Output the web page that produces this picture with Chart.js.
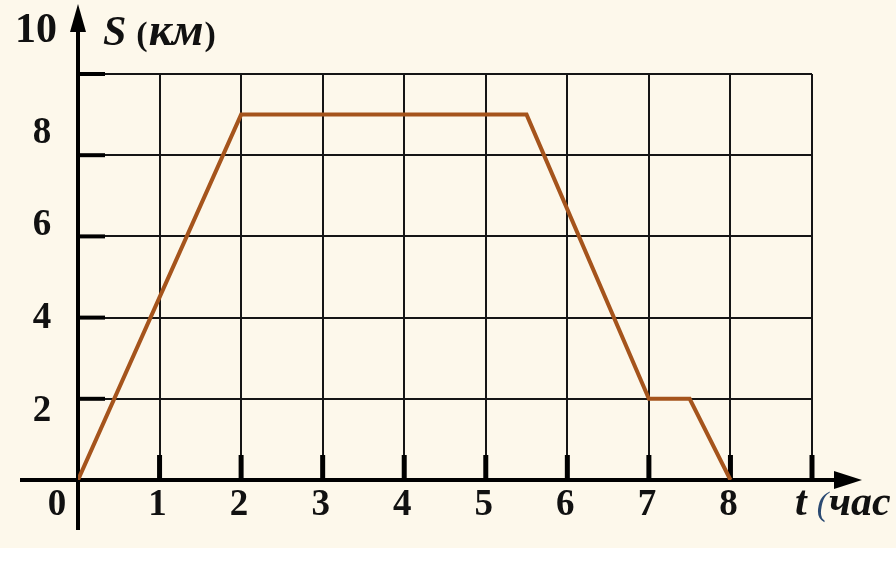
<!DOCTYPE html>
<html>
<head>
<meta charset="utf-8">
<script src="https://cdn.jsdelivr.net/npm/chart.js@4"></script>
<style>
  body { margin: 0; background: #fff; }
  #wrap { width: 896px; height: 571px; }
</style>
</head>
<body>
<div id="wrap"><canvas id="pathChart" width="896" height="571"></canvas></div>
<script>
// distance-time graph: t in hours, S in km
var timeHours = [0, 2, 5.5, 7, 7.5, 8];
var distanceKm = [0, 9, 9, 2, 2, 0];
var xTickLabels = ['0', '1', '2', '3', '4', '5', '6', '7', '8'];
var yTickLabels = ['2', '4', '6', '8', '10'];

var points = timeHours.map(function (t, i) { return { x: t, y: distanceKm[i] }; });

var serif = '"Liberation Serif", "Times New Roman", serif';

// cream paper background
var paperPlugin = {
    id: 'paper',
    beforeDraw: function (chart) {
        var c = chart.ctx;
        c.save();
        c.fillStyle = '#ffffff';
        c.fillRect(0, 0, chart.width, chart.height);
        c.fillStyle = '#fdf8eb';
        c.fillRect(0, 0, chart.width, 548);
        c.restore();
    }
};

// writes pieces of text one after another, each with its own font
function writeRun(c, x, y, parts) {
    parts.forEach(function (p) {
        c.font = p.font;
        c.fillStyle = p.color || '#111';
        c.fillText(p.text, x, y);
        x += c.measureText(p.text).width + (p.gap || 0);
    });
}

// thick axes with arrows, tick marks and labels
var axesPlugin = {
    id: 'axes',
    beforeDatasetsDraw: function (chart) {
        var c = chart.ctx;
        var xs = chart.scales.x, ys = chart.scales.y;
        var x0 = xs.getPixelForValue(0), y0 = ys.getPixelForValue(0);
        c.save();
        c.strokeStyle = '#000';
        c.fillStyle = '#000';
        c.lineWidth = 4;
        // x axis
        c.beginPath();
        c.moveTo(20, y0);
        c.lineTo(845, y0);
        c.stroke();
        c.beginPath();
        c.moveTo(862, y0);
        c.lineTo(834, y0 - 9);
        c.lineTo(834, y0 + 9);
        c.closePath();
        c.fill();
        // y axis
        c.beginPath();
        c.moveTo(x0, 530);
        c.lineTo(x0, 22);
        c.stroke();
        c.beginPath();
        c.moveTo(x0, 4);
        c.lineTo(x0 - 8, 32);
        c.lineTo(x0 + 8, 32);
        c.closePath();
        c.fill();
        // x tick marks
        c.lineWidth = 5;
        for (var i = 1; i <= 9; i++) {
            var px = xs.getPixelForValue(i);
            c.beginPath();
            c.moveTo(px, y0);
            c.lineTo(px, y0 - 25);
            c.stroke();
        }
        // y tick marks
        c.lineWidth = 4;
        for (var v = 2; v <= 10; v += 2) {
            var py = ys.getPixelForValue(v);
            c.beginPath();
            c.moveTo(x0, py);
            c.lineTo(x0 + 27, py);
            c.stroke();
        }
        c.restore();
    },
    afterDraw: function (chart) {
        var c = chart.ctx;
        var xs = chart.scales.x, ys = chart.scales.y;
        c.save();
        c.fillStyle = '#111';
        c.textBaseline = 'middle';
        // x labels
        c.font = 'bold 37px ' + serif;
        c.textAlign = 'center';
        xTickLabels.forEach(function (lab, i) {
            var px = i === 0 ? 57 : xs.getPixelForValue(i) - 2;
            c.fillText(lab, px, 505);
        });
        // y labels (scan places them a bit stretched compared to the grid)
        yTickLabels.forEach(function (lab) {
            var v = Number(lab);
            if (v === 10) {
                c.font = 'bold 42px ' + serif;
                c.textAlign = 'right';
                c.fillText(lab, 57, 31);
                return;
            }
            c.font = 'bold 37px ' + serif;
            c.textAlign = 'center';
            var py = ys.getPixelForValue(v * 1.14 - 0.58);
            c.fillText(lab, 42, py);
        });
        // axis titles
        c.textAlign = 'left';
        c.textBaseline = 'alphabetic';
        writeRun(c, 103, 45, [
            { text: 'S', font: 'italic bold 42px ' + serif, gap: 10 },
            { text: '(', font: 'bold 34px ' + serif, gap: 1 },
            { text: 'км', font: 'italic bold 46px ' + serif, gap: 1 },
            { text: ')', font: 'bold 34px ' + serif }
        ]);
        writeRun(c, 795, 515, [
            { text: 't', font: 'italic bold 42px ' + serif, gap: 10 },
            { text: '(', font: 'italic 34px ' + serif, color: '#2b4a72', gap: 1 },
            { text: 'час', font: 'italic bold 42px ' + serif }
        ]);
        c.restore();
    }
};

var ctx = document.getElementById('pathChart').getContext('2d');

var pathChart = new Chart(ctx, {
    type: 'line',
    data: {
        datasets: [{
            data: points,
            borderColor: '#a5541c',
            borderWidth: 4,
            pointRadius: 0,
            tension: 0,
            fill: false
        }]
    },
    options: {
        responsive: false,
        animation: false,
        layout: { padding: { left: 78, right: 84, top: 74, bottom: 91 } },
        plugins: {
            legend: { display: false },
            tooltip: { enabled: false }
        },
        scales: {
            x: {
                type: 'linear',
                min: 0,
                max: 9,
                ticks: { display: false, stepSize: 1 },
                grid: { color: '#151515', lineWidth: 2, drawTicks: false },
                border: { display: false }
            },
            y: {
                type: 'linear',
                min: 0,
                max: 10,
                ticks: { display: false, stepSize: 2 },
                grid: { color: '#151515', lineWidth: 2, drawTicks: false },
                border: { display: false }
            }
        }
    },
    plugins: [paperPlugin, axesPlugin]
});
</script>
</body>
</html>
